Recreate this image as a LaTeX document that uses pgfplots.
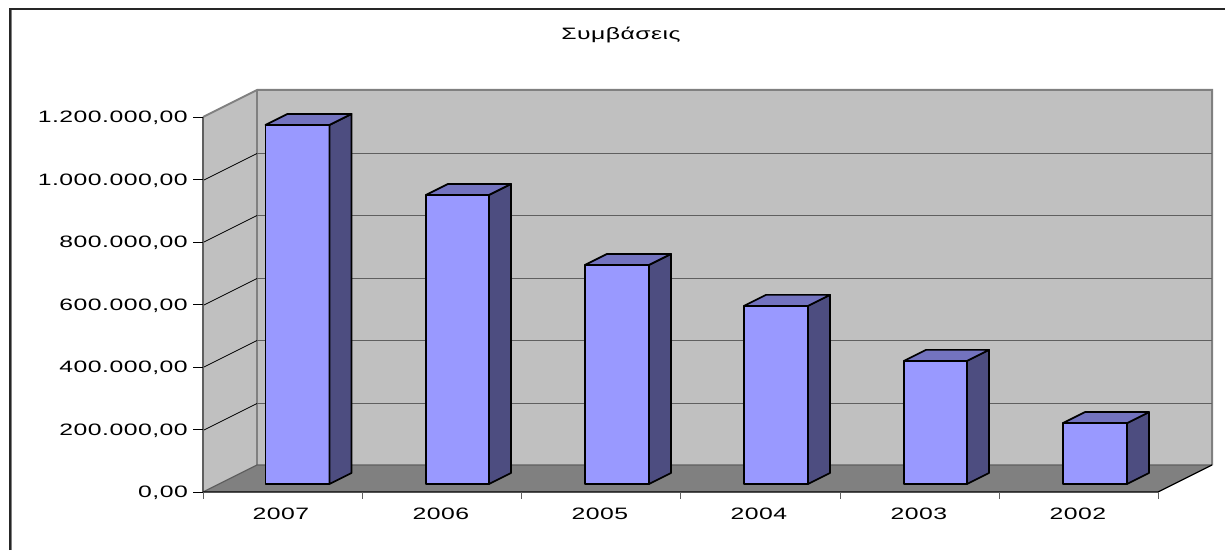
\documentclass[border=0pt]{standalone}
\usepackage{fontspec}
\setmainfont[FakeStretch=1.5,LetterSpace=3]{Liberation Sans}
\usepackage{pgfplots}
\pgfplotsset{compat=1.18}
\definecolor{wall}{HTML}{C0C0C0}
\definecolor{floorg}{HTML}{808080}
\definecolor{barf}{HTML}{9999FF}
\definecolor{bars}{HTML}{4D4D80}
\definecolor{bart}{HTML}{7373BF}
\definecolor{gridd}{HTML}{5F5F5F}

% x in reference pixels, y in thousands; bar base sits on y=0
% left edge, right edge, value
\newcommand{\threedbar}[3]{%
  \pgfmathsetmacro{\xb}{#2+22}\pgfmathsetmacro{\xa}{#1+22}\pgfmathsetmacro{\yt}{#3+35.2}%
  \addplot[fill=barf,draw=black,line width=1.7pt,line join=round] coordinates {(#1,0) (#2,0) (#2,#3) (#1,#3)} --cycle;
  \addplot[fill=bars,draw=black,line width=1.7pt,line join=round] coordinates {(#2,0) (\xb,35.2) (\xb,\yt) (#2,#3)} --cycle;
  \addplot[fill=bart,draw=black,line width=1.7pt,line join=round] coordinates {(#1,#3) (#2,#3) (\xb,\yt) (\xa,\yt)} --cycle;
}

\begin{document}
\begin{tikzpicture}
\begin{axis}[
  scale only axis, width=1225pt, height=550pt,
  xmin=0, xmax=1225, ymin=-211.2, ymax=1548.8,
  hide axis, clip=true,
  every axis plot/.append style={no markers, sharp plot},
]
% page background, keeps the full box in the bounding box
\addplot[fill=white,draw=none] coordinates {(0,-211.2) (1225,-211.2) (1225,1548.8) (0,1548.8)} --cycle;
% frame
\addplot[draw=floorg,line width=1pt] coordinates {(11.5,-211.2) (11.5,1516.8) (1225,1516.8)};
\addplot[draw=black!85,line width=1.4pt] coordinates {(10,-211.2) (10,1520) (1225,1520)};
% walls and floor
\addplot[fill=wall,draw=none] coordinates {(257,60.8) (1212,60.8) (1212,1260.8) (257,1260.8)} --cycle;
\addplot[fill=wall,draw=none] coordinates {(203,-25.6) (257,60.8) (257,1260.8) (203,1174.4)} --cycle;
\addplot[fill=floorg,draw=none] coordinates {(203,-25.6) (1158,-25.6) (1212,60.8) (257,60.8)} --cycle;
% wall edges
\addplot[draw=floorg,line width=2pt] coordinates {(203,1174.4) (257,1260.8) (1212,1260.8) (1212,60.8)};
\addplot[draw=floorg,line width=2pt] coordinates {(257,1260.8) (257,60.8)};
\addplot[draw=gridd,line width=1.2pt] coordinates {(203,-25.6) (257,60.8) (1212,60.8)};
% gridlines
\addplot[draw=black,line width=.8pt] coordinates {(203,171.2) (257,257.6)};
\addplot[draw=gridd,line width=1.5pt] coordinates {(257,257.6) (1212,257.6)};
\addplot[draw=black,line width=.8pt] coordinates {(203,372.8) (257,459.2)};
\addplot[draw=gridd,line width=1.5pt] coordinates {(257,459.2) (1212,459.2)};
\addplot[draw=black,line width=.8pt] coordinates {(203,571.2) (257,657.6)};
\addplot[draw=gridd,line width=1.5pt] coordinates {(257,657.6) (1212,657.6)};
\addplot[draw=black,line width=.8pt] coordinates {(203,772.8) (257,859.2)};
\addplot[draw=gridd,line width=1.5pt] coordinates {(257,859.2) (1212,859.2)};
\addplot[draw=black,line width=.8pt] coordinates {(203,971.2) (257,1057.6)};
\addplot[draw=gridd,line width=1.5pt] coordinates {(257,1057.6) (1212,1057.6)};
% value axis and category axis
\addplot[draw=gridd,line width=1.2pt] coordinates {(203,-25.6) (203,1174.4)};
\addplot[draw=black,line width=1.2pt] coordinates {(203,-25.6) (1158,-25.6) (1212,60.8)};
% ticks
\addplot[draw=black,line width=.8pt] coordinates {(193,-25.6) (203,-25.6)};
\addplot[draw=black,line width=.8pt] coordinates {(193,174.4) (203,174.4)};
\addplot[draw=black,line width=.8pt] coordinates {(193,374.4) (203,374.4)};
\addplot[draw=black,line width=.8pt] coordinates {(193,574.4) (203,574.4)};
\addplot[draw=black,line width=.8pt] coordinates {(193,774.4) (203,774.4)};
\addplot[draw=black,line width=.8pt] coordinates {(193,974.4) (203,974.4)};
\addplot[draw=black,line width=.8pt] coordinates {(193,1174.4) (203,1174.4)};
\addplot[draw=gridd,line width=.8pt] coordinates {(203,-25.6) (203,-48)};
\addplot[draw=gridd,line width=.8pt] coordinates {(362,-25.6) (362,-48)};
\addplot[draw=gridd,line width=.8pt] coordinates {(521,-25.6) (521,-48)};
\addplot[draw=gridd,line width=.8pt] coordinates {(680,-25.6) (680,-48)};
\addplot[draw=gridd,line width=.8pt] coordinates {(840,-25.6) (840,-48)};
\addplot[draw=gridd,line width=.8pt] coordinates {(999,-25.6) (999,-48)};
\addplot[draw=gridd,line width=.8pt] coordinates {(1158,-25.6) (1158,-48)};
% bars
\threedbar{265.5}{329.5}{1149}
\threedbar{426}{489}{925}
\threedbar{585}{649}{701}
\threedbar{744}{808}{570}
\threedbar{904}{967}{394}
\threedbar{1063}{1127}{195}
% text
\tikzset{lab/.style={font=\fontsize{16.5pt}{18pt}\selectfont,inner sep=0pt,text=black}}
\node[lab] at (axis cs:621,1437) {Συμβάσεις};
\node[lab,anchor=east] at (axis cs:188,1171.2) {1.200.000,00};
\node[lab,anchor=east] at (axis cs:188,971.2) {1.000.000,00};
\node[lab,anchor=east] at (axis cs:188,771.2) {800.000,00};
\node[lab,anchor=east] at (axis cs:188,571.2) {600.000,00};
\node[lab,anchor=east] at (axis cs:188,371.2) {400.000,00};
\node[lab,anchor=east] at (axis cs:188,171.2) {200.000,00};
\node[lab,anchor=east] at (axis cs:188,-28.8) {0,00};
\node[lab] at (axis cs:281,-96) {2007};
\node[lab] at (axis cs:441,-96) {2006};
\node[lab] at (axis cs:600,-96) {2005};
\node[lab] at (axis cs:759,-96) {2004};
\node[lab] at (axis cs:919,-96) {2003};
\node[lab] at (axis cs:1078,-96) {2002};
\end{axis}
\end{tikzpicture}
\end{document}
